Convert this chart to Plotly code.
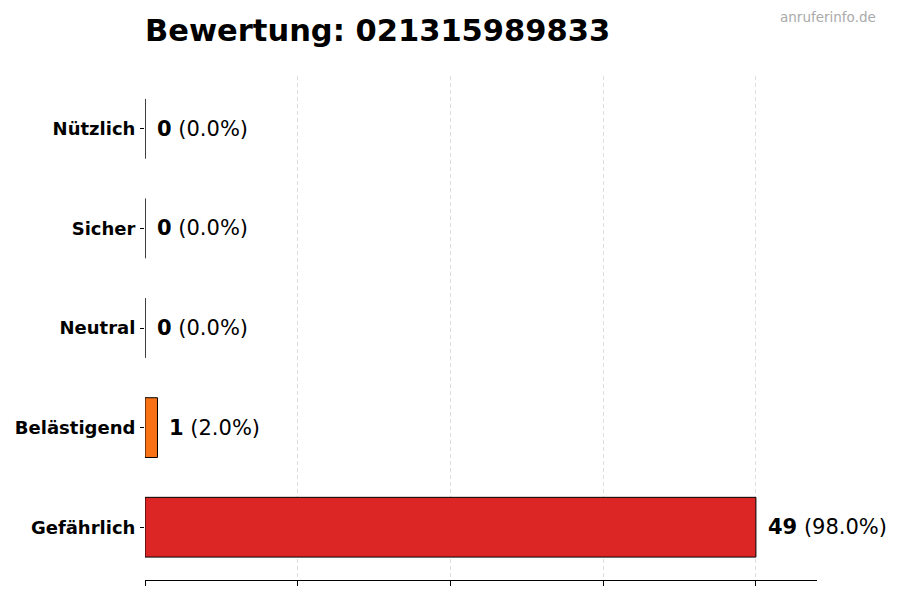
import numpy as np
import plotly.graph_objects as go

categories = ["Gefährlich", "Belästigend", "Neutral", "Sicher", "Nützlich"]
counts = [49, 1, 0, 0, 0]
percents = [98.0, 2.0, 0.0, 0.0, 0.0]
colors = ["#dc2626", "#f97316", "#9ca3af", "#22c55e", "#16a34a"]
phone = "021315989833"

fig = go.Figure()
fig.add_trace(go.Bar(
    x=counts, y=categories, orientation="h", width=0.6,
    marker=dict(color=colors, line=dict(color="black", width=1)),
    hoverinfo="skip",
))

for c, n, p in zip(categories, counts, percents):
    fig.add_annotation(
        x=n, y=c, xref="x", yref="y", xanchor="left", yanchor="middle",
        xshift=10, showarrow=False,
        text=f"<b>{n}</b> ({p:.1f}%)",
        font=dict(family="DejaVu Sans", size=21, color="black"),
    )

fig.add_annotation(
    x=1.091, y=1.117, xref="paper", yref="paper", xanchor="right",
    yanchor="middle", showarrow=False, text="anruferinfo.de",
    font=dict(family="DejaVu Sans", size=13.5, color="#aaaaaa"),
)

xmax = max(counts)
# page adds 8px body margin, so the margins are trimmed by 8
fig.update_layout(
    width=900, height=600,
    margin=dict(l=137, r=91, t=68, b=28),
    plot_bgcolor="white", paper_bgcolor="white",
    showlegend=False,
    title=dict(text=f"<b>Bewertung: {phone}</b>", x=137 / 900, xanchor="left",
               xref="container", y=1 - 22 / 600, yanchor="middle",
               font=dict(family="DejaVu Sans", size=30.5, color="black")),
)
fig.update_xaxes(
    range=[0, xmax * 1.1], tickvals=np.linspace(0, xmax, 5),
    showticklabels=False, ticks="outside", ticklen=5, tickcolor="black",
    showline=True, linecolor="black", linewidth=1,
    showgrid=True, gridcolor="#dddddd", griddash="4px,3px", gridwidth=0.8,
    zeroline=False, automargin=False,
)
fig.update_yaxes(
    range=[-0.53, 4.53], ticks="outside", ticklen=4, tickcolor="black",
    showline=False, showgrid=False, zeroline=False, ticklabelstandoff=1,
    automargin=False,
    tickfont=dict(family="DejaVu Sans", size=18, color="black"),
    tickprefix="<b>", ticksuffix="</b>",
)

fig.write_html("out.html")
